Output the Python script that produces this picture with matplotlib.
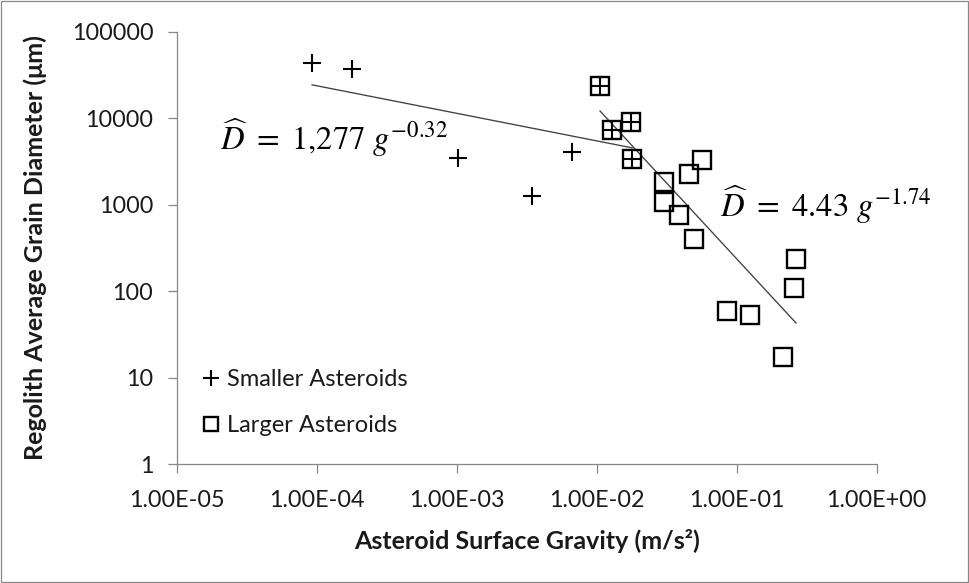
import numpy as np
import matplotlib
matplotlib.use("Agg")
import matplotlib.pyplot as plt
from matplotlib.patches import Rectangle
from matplotlib.ticker import FixedLocator, FuncFormatter, NullLocator

# ---- data ----
small_g = [9.2e-5, 1.77e-4, 1.02e-3, 3.42e-3, 6.68e-3, 0.01052, 0.01275, 0.01742, 0.0179]
small_D = [43100, 36750, 3440, 1262, 4050, 23770, 7310, 8970, 3380]

large_g = [0.01052, 0.01275, 0.01742, 0.0179, 0.0303, 0.0303, 0.0457, 0.0566,
           0.0387, 0.0497, 0.265, 0.2577, 0.0848, 0.124, 0.2128]
large_D = [23770, 7310, 8970, 3380, 1846, 1084, 2266, 3290,
           761, 399, 236, 108, 59.6, 53.2, 17.5]

x_ticks = [1e-5, 1e-4, 1e-3, 1e-2, 1e-1, 1e0]
y_ticks = [1, 10, 100, 1000, 10000, 100000]

label_small = "Smaller Asteroids"
label_large = "Larger Asteroids"
eq_small = r"$\widehat{D}\ =\ 1{,}277\ g^{-0.32}$"
eq_large = r"$\widehat{D}\ =\ 4.43\ g^{-1.74}$"
xlabel = "Asteroid Surface Gravity (m/s²)"
ylabel = "Regolith Average Grain Diameter (μm)"

# ---- style ----
FONT = ["Lato", "DejaVu Sans"]
plt.rcParams["font.family"] = FONT
plt.rcParams["mathtext.fontset"] = "stix"
AX_COL = "#878787"
TXT_COL = "#1a1a1a"

W, H = 969, 583
fig = plt.figure(figsize=(W / 100, H / 100), dpi=100)
fig.patch.set_facecolor("white")
fig.patches.append(Rectangle((0.6 / W, 0.6 / H), 1 - 1.6 / W, 1 - 1.6 / H,
                             transform=fig.transFigure, fill=False,
                             edgecolor=AX_COL, lw=0.9))

left, right, top, bottom = 177.3, 876.7, 31.7, 464.3
ax = fig.add_axes([left / W, 1 - bottom / H, (right - left) / W, (bottom - top) / H])
ax.set_xscale("log")
ax.set_yscale("log")
ax.set_xlim(x_ticks[0], x_ticks[-1])
ax.set_ylim(y_ticks[0], y_ticks[-1])

# trend lines: power fit (least squares in log-log space)
def power_fit(g, d):
    b, a = np.polyfit(np.log10(g), np.log10(d), 1)
    gg = np.array([min(g), max(g)])
    return gg, 10 ** a * gg ** b

for g, d in ((small_g, small_D), (large_g, large_D)):
    gg, dd = power_fit(g, d)
    ax.plot(gg, dd, color="#404040", lw=0.95, zorder=2)

ax.plot(large_g, large_D, linestyle="none", marker="s", markersize=12.6,
        markerfacecolor="none", markeredgecolor="black", markeredgewidth=1.7,
        label=label_large, zorder=3)
ax.plot(small_g, small_D, linestyle="none", marker="+", markersize=13.3,
        color="black", markeredgewidth=1.5, label=label_small, zorder=4)

# axes styling
for s in ("top", "right"):
    ax.spines[s].set_visible(False)
for s in ("left", "bottom"):
    ax.spines[s].set_color(AX_COL)
    ax.spines[s].set_linewidth(0.9)

ax.xaxis.set_major_locator(FixedLocator(x_ticks))
ax.yaxis.set_major_locator(FixedLocator(y_ticks))
ax.xaxis.set_minor_locator(NullLocator())
ax.yaxis.set_minor_locator(NullLocator())
ax.xaxis.set_major_formatter(FuncFormatter(lambda v, p: f"{v:.2E}"))
ax.yaxis.set_major_formatter(FuncFormatter(lambda v, p: f"{int(round(v))}"))
ax.tick_params(axis="both", which="major", direction="out", length=6.3,
               width=0.9, color=AX_COL, labelsize=16.8, labelcolor=TXT_COL)
ax.tick_params(axis="y", pad=11)
ax.tick_params(axis="x", pad=12.5)

ax.set_xlabel(xlabel, fontsize=18, fontweight="bold", color=TXT_COL)
ax.set_ylabel(ylabel, fontsize=18, fontweight="bold", color=TXT_COL)
ax.xaxis.set_label_coords(0.5, (bottom - 541) / (bottom - top))
ax.xaxis.label.set_va("center")
ax.yaxis.set_label_coords((35 - left) / (right - left), 0.5)
ax.yaxis.label.set_va("center")

# equations
ax.text((220 - left) / (right - left), (bottom - 150) / (bottom - top), eq_small,
        transform=ax.transAxes, fontsize=23.5, ha="left", va="baseline", color="black")
ax.text((720 - left) / (right - left), (bottom - 216.7) / (bottom - top), eq_large,
        transform=ax.transAxes, fontsize=23.5, ha="left", va="baseline", color="black")

# legend
handles, labels = ax.get_legend_handles_labels()
order = [labels.index(label_small), labels.index(label_large)]
leg = ax.legend([handles[i] for i in order], [labels[i] for i in order],
                loc="upper left",
                bbox_to_anchor=((200 - left) / (right - left), (bottom - 369) / (bottom - top)),
                frameon=False, fontsize=17, markerscale=0.83, handlelength=0.9,
                handletextpad=0.25, labelspacing=1.06, borderaxespad=0, borderpad=0)
for t in leg.get_texts():
    t.set_color(TXT_COL)

fig.savefig("out.png", dpi=100, facecolor="white")
